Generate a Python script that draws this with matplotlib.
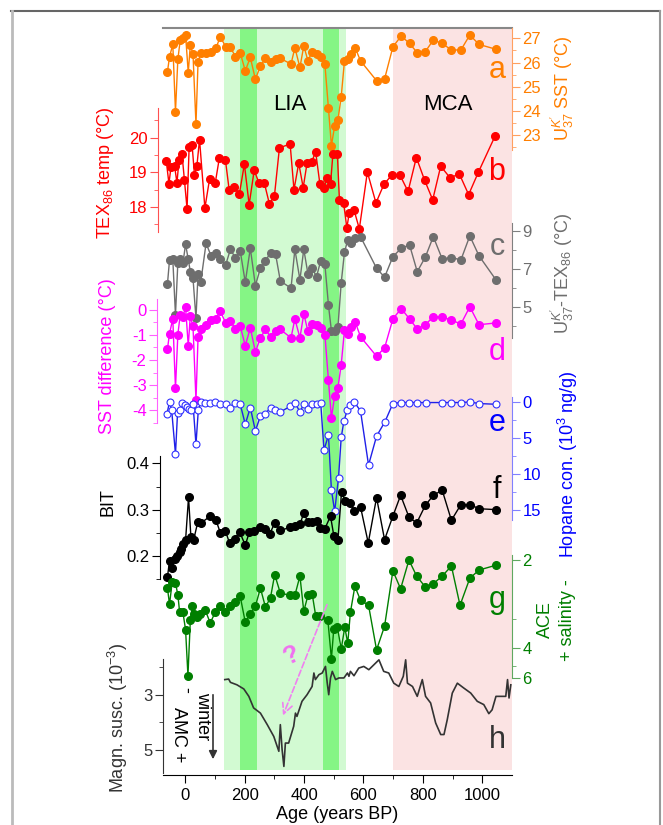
import matplotlib.pyplot as plt
import numpy as np

plt.rcParams['font.family'] = ['Liberation Sans', 'DejaVu Sans']
plt.rcParams['mathtext.fontset'] = 'custom'
plt.rcParams['mathtext.rm'] = 'Liberation Sans'
plt.rcParams['mathtext.it'] = 'Liberation Sans:italic'

# ---- data (age in years BP) ----
age_uk = [-60, -53, -42, -33, -25, -17, -8, 1, 10, 17, 26, 36, 43, 52, 70, 87, 103, 118, 136, 152,
          169, 185, 202, 219, 236, 253, 270, 287, 304, 320, 356, 369, 386, 399, 413, 427, 442, 456,
          470, 482, 492, 503, 514, 525, 536, 547, 559, 572, 590, 644, 671, 699, 727, 755, 781, 808,
          835, 865, 896, 928, 958, 989, 1046]
uk_sst = [25.62, 26.24, 26.75, 23.97, 26.13, 26.93, 27.0, 27.14, 25.58, 26.72, 26.35, 23.46, 26.02,
          26.38, 26.38, 26.45, 26.59, 27.07, 26.65, 26.63, 26.24, 26.40, 25.66, 26.21, 25.31, 25.86,
          26.17, 26.03, 26.14, 26.17, 25.94, 26.61, 25.80, 26.69, 26.07, 26.45, 26.34, 26.21, 25.93,
          24.11, 22.56, 23.38, 23.62, 24.59, 26.07, 26.15, 26.34, 26.61, 26.07, 25.25, 25.32, 26.65,
          27.10, 26.79, 26.41, 26.45, 26.93, 26.79, 26.52, 26.52, 27.14, 26.75, 26.55]
uk_minus_tex = [6.19, 7.46, 7.49, 4.56, 7.32, 7.49, 7.28, 8.28, 7.49, 6.84, 6.49, 4.39, 6.72, 6.28,
                8.33, 7.67, 7.84, 7.51, 7.19, 8.02, 7.55, 7.93, 6.28, 8.07, 6.11, 7.02, 7.41, 7.84,
                7.76, 6.35, 5.97, 8.02, 6.41, 8.02, 6.72, 7.02, 6.58, 7.42, 7.23, 5.09, 3.72, 3.74,
                3.92, 6.26, 7.86, 8.51, 8.37, 8.6, 8.68, 7.02, 6.55, 7.63, 8.07, 8.25, 6.84, 7.6,
                8.68, 7.51, 7.58, 7.46, 8.72, 7.67, 6.41]
sst_diff = [-1.56, -0.95, -0.36, -3.13, -0.99, -0.2, -0.3, 0.11, -1.43, -0.26, -0.66, -3.6, -1.1,
            -0.79, -0.63, -0.42, -0.36, -0.07, -0.53, -0.46, -0.77, -0.66, -1.43, -0.73, -1.68,
            -1.12, -0.79, -1.08, -0.86, -0.79, -1.12, -0.37, -1.12, -0.17, -0.86, -0.56, -0.63,
            -0.73, -0.99, -2.8, -4.3, -3.41, -3.11, -2.18, -0.82, -0.95, -0.69, -0.49, -1.08,
            -1.85, -1.52, -0.37, 0.04, -0.37, -0.77, -0.6, -0.29, -0.29, -0.42, -0.57, 0.11,
            -0.6, -0.53]

age_tex = [-64, -55, -48, -36, -28, -21, -11, -3, 6, 13, 23, 31, 39, 48, 66, 82, 101, 115, 135, 148,
           165, 182, 199, 215, 232, 248, 266, 283, 300, 317, 353, 366, 382, 397, 410, 425, 439, 453,
           467, 478, 489, 497, 512, 519, 533, 544, 552, 568, 586, 613, 642, 669, 695, 723, 750, 778,
           806, 833, 860, 891, 923, 954, 987, 1043]
tex_temp = [19.33, 18.68, 19.16, 19.18, 18.70, 19.37, 19.53, 18.79, 17.95, 19.74, 19.79, 18.92,
            19.18, 19.95, 17.97, 18.82, 18.70, 19.43, 19.37, 18.48, 18.58, 18.37, 19.24, 18.07,
            19.06, 18.70, 18.70, 18.10, 18.31, 19.71, 19.82, 18.50, 19.27, 18.56, 19.27, 19.30,
            19.59, 18.68, 18.56, 18.85, 18.66, 19.53, 19.53, 18.21, 18.12, 17.40, 17.83, 17.92,
            17.37, 19.01, 18.12, 18.66, 18.92, 18.92, 18.45, 19.43, 18.77, 18.21, 19.18, 18.85,
            18.95, 18.36, 19.01, 20.05]

age_hop = [-62, -53, -46, -33, -26, -19, -10, -2, 6, 12, 19, 26, 36, 44, 53, 67, 84, 101, 118, 137,
           152, 169, 185, 202, 219, 236, 253, 270, 287, 301, 320, 354, 369, 386, 399, 414, 427, 442,
           456, 467, 482, 492, 503, 516, 525, 534, 546, 556, 569, 590, 617, 644, 672, 699, 725, 753,
           781, 809, 863, 896, 928, 958, 989, 1046]
hopane = [1.7, 0.0, 1.05, 7.24, 1.47, 1.15, 0.14, 0.46, 0.69, 0.92, 1.15, 0.22, 5.9, 1.05, 0.0, 0.08,
          0.08, 0.0, 0.32, 0.32, 0.78, 0.08, 0.32, 3.09, 0.78, 4.02, 1.94, 1.61, 0.78, 1.15, 1.38, 0.6,
          0.08, 1.38, 0.32, 1.01, 0.32, 0.22, 0.14, 6.69, 4.61, 12.2, 15.2, 10.5, 4.93, 2.67, 1.05,
          0.36, 0.0, 1.25, 8.77, 4.75, 2.77, 0.22, 0.08, 0.08, 0.08, 0.08, 0.08, 0.08, 0.08, 0.0,
          0.22, 0.32]

age_bit = [-60, -53, -44, -35, -28, -19, -15, -6, 1, 11, 19, 28, 42, 53, 84, 103, 118, 135, 149, 166,
           183, 202, 216, 233, 253, 270, 284, 301, 320, 354, 371, 386, 399, 413, 427, 442, 455, 470,
           489, 500, 514, 526, 539, 556, 569, 590, 616, 644, 671, 699, 725, 753, 779, 808, 835, 865,
           896, 928, 958, 989, 1046]
bit = [0.154, 0.19, 0.173, 0.194, 0.199, 0.208, 0.214, 0.225, 0.234, 0.327, 0.24, 0.234, 0.273,
       0.271, 0.286, 0.278, 0.25, 0.254, 0.228, 0.237, 0.252, 0.223, 0.252, 0.253, 0.262, 0.259,
       0.247, 0.271, 0.255, 0.262, 0.264, 0.268, 0.293, 0.273, 0.273, 0.275, 0.26, 0.259, 0.286,
       0.244, 0.235, 0.338, 0.319, 0.314, 0.298, 0.306, 0.228, 0.326, 0.235, 0.286, 0.331, 0.284,
       0.271, 0.309, 0.331, 0.342, 0.277, 0.311, 0.311, 0.302, 0.3]

age_ace = [-60, -53, -44, -33, -25, -19, -8, 1, 9, 17, 24, 30, 39, 48, 67, 84, 101, 118, 135, 152,
           169, 185, 202, 219, 236, 253, 270, 287, 301, 320, 352, 369, 386, 399, 413, 427, 439, 455,
           480, 492, 500, 512, 525, 537, 547, 556, 571, 590, 617, 644, 671, 699, 725, 753, 779, 808,
           835, 865, 896, 925, 958, 989, 1046]
ace = [2.38, 2.67, 2.28, 2.3, 2.49, 2.84, 2.84, 3.31, 5.83, 3.04, 2.71, 2.89, 2.96, 2.89, 2.79, 3.11,
       2.84, 2.71, 2.84, 2.71, 2.62, 2.52, 3.09, 2.88, 2.71, 2.38, 2.73, 2.54, 2.18, 2.46, 2.5, 2.5,
       2.2, 2.82, 2.5, 2.47, 2.92, 2.92, 3.03, 4.55, 3.28, 3.23, 4.04, 3.23, 3.79, 2.84, 2.35, 2.59,
       2.69, 4.08, 3.2, 2.13, 2.39, 2.0, 2.2, 2.36, 2.31, 2.2, 2.07, 2.69, 2.23, 2.12, 2.06]

age_ms = [133, 146, 152, 174, 197, 214, 230, 253, 276, 298, 315, 320, 326, 332, 337, 348, 365, 371,
          376, 393, 410, 427, 433, 438, 450, 461, 472, 478, 483, 489, 495, 506, 517, 534, 546, 551,
          556, 568, 584, 601, 618, 635, 652, 668, 685, 702, 719, 734, 742, 748, 765, 781, 798, 809,
          826, 843, 860, 871, 882, 899, 916, 938, 961, 983, 1005, 1022, 1033, 1046, 1068, 1079,
          1085, 1090, 1096]
mag_susc = [2.45, 2.43, 2.55, 2.64, 2.79, 3.06, 3.48, 3.67, 4.09, 4.52, 5.06, 4.09, 5.0, 5.61, 4.76,
            4.76, 4.15, 3.67, 3.79, 3.24, 3.0, 2.7, 2.21, 2.45, 2.27, 2.21, 1.97, 2.58, 3.0, 2.39,
            2.15, 2.45, 2.39, 2.39, 2.21, 2.33, 2.15, 2.31, 2.03, 1.97, 2.09, 1.91, 1.73, 2.15, 2.21,
            2.58, 2.7, 2.33, 1.73, 2.58, 2.7, 3.06, 2.45, 3.06, 3.3, 4.03, 4.45, 4.45, 3.91, 2.94,
            2.58, 2.76, 2.94, 3.24, 3.36, 3.69, 3.55, 3.06, 3.06, 3.06, 2.45, 3.12, 2.64]

lia_band = (131, 540)
dark_bands = [(185, 243), (462, 519)]
mca_band = (701, 1100)

# ---- layout helpers (pixel positions in a 663 x 825 figure) ----
W, H = 663, 825
X0, X1 = 163, 512
XLIM = (-75, 1100)


def fx(x):
    return x / W


def fy(y):
    return 1 - y / H


def box(top, bot):
    return [X0 / W, 1 - bot / H, (X1 - X0) / W, (bot - top) / H]


fig = plt.figure(figsize=(6.63, 8.25), dpi=100)

# background axis: shaded periods + age axis
bg = fig.add_axes(box(28, 775))
bg.set_xlim(*XLIM)
bg.set_ylim(0, 1)
bg.axvspan(*lia_band, ymin=0.007, color='#D2FAD2', lw=0)
for a0, a1 in dark_bands:
    bg.axvspan(a0, a1, ymin=0.007, color='#85F585', lw=0)
bg.axvspan(*mca_band, ymin=0.007, color='#FBE3E3', lw=0)
for s in ['left', 'right']:
    bg.spines[s].set_visible(False)
bg.spines['top'].set_color('#888888')
bg.spines['top'].set_linewidth(1.5)
bg.set_yticks([])
bg.set_xticks(np.arange(0, 1001, 200))
bg.set_xticks(np.arange(100, 1100, 200), minor=True)
bg.tick_params(axis='x', which='major', length=6, labelsize=12, direction='out')
bg.tick_params(axis='x', which='minor', length=3, direction='out')
bg.set_xlabel('Age (years BP)', fontsize=13, labelpad=2)


def panel(top, bot, side, color, spine_color, ylim, major, minor, offset=0, scale=None):
    ax = fig.add_axes(box(top, bot))
    ax.patch.set_alpha(0)
    ax.set_xlim(*XLIM)
    ax.xaxis.set_visible(False)
    for s in ax.spines:
        ax.spines[s].set_visible(False)
    ax.spines[side].set_visible(True)
    ax.spines[side].set_color(spine_color)
    ax.spines[side].set_position(('outward', offset * 0.72))
    if scale is not None:
        ax.set_yscale('function', functions=scale)
    ax.yaxis.set_ticks_position(side)
    ax.set_ylim(*ylim)
    ax.set_yticks(major)
    ax.set_yticklabels([str(m) for m in major])
    ax.set_yticks(minor, minor=True)
    ax.yaxis.set_minor_formatter(plt.NullFormatter())
    ax.tick_params(axis='y', which='both', direction='out', color=spine_color,
                   labelcolor=color, labelsize=12, pad=1.5)
    ax.tick_params(axis='y', which='major', length=6)
    ax.tick_params(axis='y', which='minor', length=3)
    return ax


orange = '#FF7F00'
red = '#FF0000'
grey = '#6E6E6E'
magenta = '#FF00FF'
blue = '#0000FF'
green = '#007F00'
dark = '#333333'

ax_a = panel(28, 150, 'right', orange, '#FFA060', (22.38, 27.43), [23, 24, 25, 26, 27],
             [22.5, 23.5, 24.5, 25.5, 26.5])
ax_a.plot(age_uk, uk_sst, '-o', color=orange, ms=5.5, lw=1, clip_on=False)

ax_b = panel(108, 232, 'left', red, '#FF5050', (17.28, 20.86), [18, 19, 20],
             [17.5, 18.5, 19.5, 20.5], offset=5)
ax_b.plot(age_tex, tex_temp, '-o', color=red, ms=5.5, lw=1, clip_on=False)

ax_c = panel(223, 338, 'right', grey, '#808080', (3.35, 9.4), [5, 7, 9], [4, 6, 8])
ax_c.plot(age_uk, uk_minus_tex, '-o', color=grey, ms=5.5, lw=1, clip_on=False)

ax_d = panel(299, 423, 'left', magenta, '#FF60FF', (-4.5, 0.42), [0, -1, -2, -3, -4],
             [-0.5, -1.5, -2.5, -3.5, -4.5], offset=6)
ax_d.plot(age_uk, sst_diff, '-o', color=magenta, ms=5.5, lw=1, clip_on=False)

ax_e = panel(397, 520, 'right', blue, '#8080FF', (16.4, -0.69), [0, 5, 10, 15],
             [2.5, 7.5, 12.5])
ax_e.plot(age_hop, hopane, '-o', color='#2020E8', mfc='white', mec='#3030FF', ms=5, mew=0.8,
          lw=1, clip_on=False)

ax_f = panel(456, 579, 'left', 'black', 'black', (0.15, 0.416), [0.2, 0.3, 0.4],
             [0.15, 0.25, 0.35], offset=3)
ax_f.plot(age_bit, bit, '-o', color='black', ms=5.5, lw=1, clip_on=False)

# ACE axis is reciprocal: 2 at top, 6 at bottom
ax_g = panel(555, 678, 'right', green, '#60A860', (6.05, 1.944), [2, 4, 6], [3, 5],
             scale=(lambda v: -1 / v, lambda u: -1 / u))
ax_g.plot(age_ace, ace, '-o', color=green, ms=5.5, lw=1, clip_on=False)

ax_h = panel(659, 773, 'left', dark, '#333333', (5.85, 1.70), [3, 5], [2, 4])
ax_h.plot(age_ms, mag_susc, '-', color=dark, lw=1.2, clip_on=False)

# ---- axis titles ----
fig.text(fx(105), fy(173), 'TEX$_{86}$ temp (°C)', color=red, rotation=90,
         ha='center', va='center', fontsize=13)
fig.text(fx(108), fy(356), 'SST difference (°C)', color=magenta, rotation=90,
         ha='center', va='center', fontsize=13)
fig.text(fx(108), fy(502), 'BIT', color='black', rotation=90, ha='center', va='center', fontsize=13)
fig.text(fx(118), fy(718), 'Magn. susc. (10$^{-3}$)', color=dark, rotation=90,
         ha='center', va='center', fontsize=13)
fig.text(fx(562), fy(88), "U$^{K'}_{37}$ SST (°C)", color=orange, rotation=90,
         ha='center', va='center', fontsize=13)
fig.text(fx(562), fy(273), "U$^{K'}_{37}$-TEX$_{86}$ (°C)", color=grey, rotation=90,
         ha='center', va='center', fontsize=13)
fig.text(fx(568), fy(464), 'Hopane con. (10$^{3}$ ng/g)', color=blue, rotation=90,
         ha='center', va='center', fontsize=13)
fig.text(fx(545), fy(620), 'ACE', color=green, rotation=90, ha='center', va='center', fontsize=13)
fig.text(fx(568), fy(620), '+ salinity -', color=green, rotation=90,
         ha='center', va='center', fontsize=13)

# ---- panel letters and period names ----
letters = [('a', 70, orange), ('b', 172, red), ('c', 247, grey), ('d', 352, magenta),
           ('e', 423, blue), ('f', 490, 'black'), ('g', 600, green), ('h', 740, dark)]
for s, yy, c in letters:
    fig.text(fx(497), fy(yy), s, color=c, fontsize=22, ha='center', va='center')
fig.text(fx(290), fy(105), 'LIA', fontsize=16, ha='center', va='center')
fig.text(fx(448), fy(105), 'MCA', fontsize=16, ha='center', va='center')

# ---- annotations in panel h ----
fig.text(fx(186), fy(690), '-', rotation=-90, fontsize=13, ha='center', va='center')
fig.text(fx(203), fy(716), 'winter', rotation=-90, fontsize=13, ha='center', va='center')
fig.text(fx(179), fy(735), 'AMC +', rotation=-90, fontsize=13, ha='center', va='center')
fig.add_artist(plt.Annotation('', xy=(fx(213), fy(762)), xytext=(fx(213), fy(692)),
                              xycoords='figure fraction',
                              arrowprops=dict(arrowstyle='-|>', color='#333333', lw=1.2,
                                              mutation_scale=12)))
fig.add_artist(plt.Annotation('', xy=(fx(282), fy(718)), xytext=(fx(328), fy(602)),
                              xycoords='figure fraction',
                              arrowprops=dict(arrowstyle='->', color='#F080F0', lw=1.2,
                                              linestyle='--', mutation_scale=18)))
fig.text(fx(292), fy(655), '?', color='#F070F0', fontsize=18, fontweight='bold',
         rotation=25, ha='center', va='center')

# ---- outer frame ----
fig.add_artist(plt.Line2D([fx(11), fx(660)], [fy(11), fy(11)], color='#666666', lw=1.5))
fig.add_artist(plt.Line2D([fx(12), fx(12)], [fy(11), 0], color='#BBBBBB', lw=2))
fig.add_artist(plt.Line2D([fx(660), fx(660)], [fy(11), 0], color='#999999', lw=1.5))

fig.savefig('out.png', dpi=100)
